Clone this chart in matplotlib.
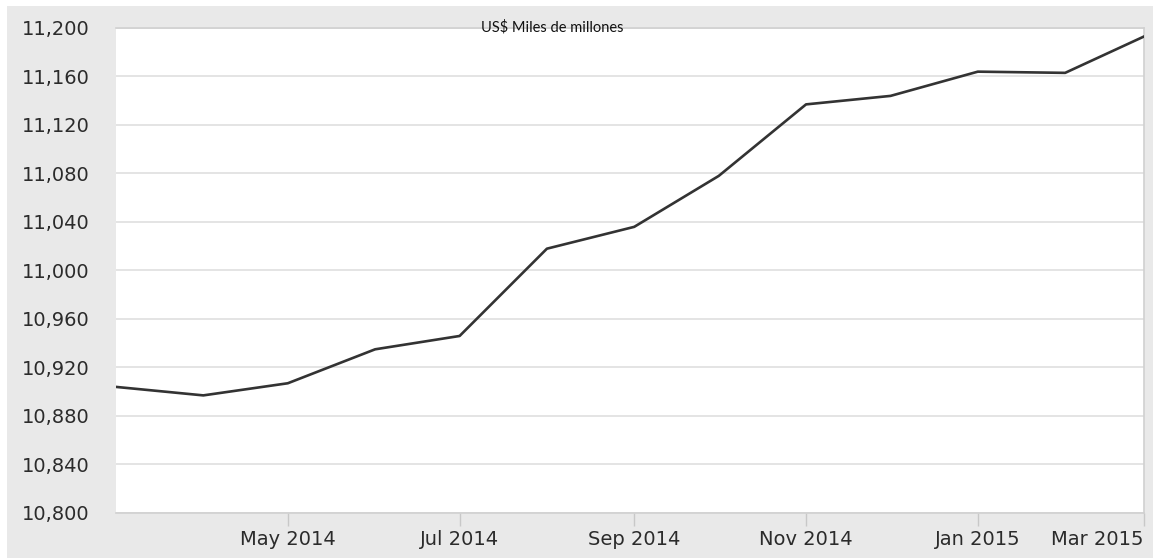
import numpy as np
import matplotlib
matplotlib.use("Agg")
import matplotlib.pyplot as plt
from matplotlib.patches import Rectangle
from matplotlib.ticker import FuncFormatter
import datetime as dt

# monthly values, US$ miles de millones
months = ["2014-03", "2014-04", "2014-05", "2014-06", "2014-07", "2014-08", "2014-09",
          "2014-10", "2014-11", "2014-12", "2015-01", "2015-02", "2015-03"]
values = [10904, 10897, 10907, 10935, 10946, 11018, 11036,
          11078, 11137, 11144, 11164, 11163, 11193]
tick_months = ["2014-05", "2014-07", "2014-09", "2014-11", "2015-01", "2015-03"]
tick_labels = ["May 2014", "Jul 2014", "Sep 2014", "Nov 2014", "Jan 2015", "Mar 2015"]
yticks = np.arange(10800, 11201, 40)

dates = [dt.datetime.strptime(m, "%Y-%m") for m in months]
tdates = [dt.datetime.strptime(m, "%Y-%m") for m in tick_months]

bg = "#e9e9e9"
txt = "#2b2b2b"

fig = plt.figure(figsize=(11.53, 5.58), dpi=100, facecolor="white")
# grey panel behind chart
fig.patches.append(Rectangle((7 / 1153, 0), 1 - 7 / 1153, 1 - 6 / 558,
                             transform=fig.transFigure, facecolor=bg,
                             edgecolor="none", zorder=-1))

ax = fig.add_axes([116 / 1153, 45 / 558, (1144 - 116) / 1153, (513 - 28) / 558])
ax.set_facecolor("white")
ax.plot(dates, values, color="#333333", lw=1.9, solid_joinstyle="round", zorder=3)

ax.set_xlim(dates[0], dates[-1])
ax.set_ylim(10800, 11200)
ax.set_yticks(yticks)
ax.yaxis.set_major_formatter(FuncFormatter(lambda v, p: f"{int(v):,}"))
ax.set_xticks(tdates)
ax.set_xticklabels(tick_labels)
ax.get_xticklabels()[-1].set_horizontalalignment("right")

ax.grid(axis="y", color="#e4e4e4", lw=1.4)
ax.tick_params(axis="y", length=0, pad=19, labelsize=14, labelcolor=txt)
ax.tick_params(axis="x", length=9, width=1, color="#c8c8c8", pad=3,
               labelsize=14, labelcolor=txt)

for s in ["top", "right", "bottom"]:
    ax.spines[s].set_color("#d0d0d0")
    ax.spines[s].set_linewidth(1.2)
ax.spines["left"].set_visible(False)

fig.text(552 / 1153, 1 - 27 / 558, "US$ Miles de millones", ha="center", va="center",
         fontsize=10.5, family="Lato", color="#111111", zorder=5)

fig.savefig("out.png", dpi=100, facecolor=fig.get_facecolor())
